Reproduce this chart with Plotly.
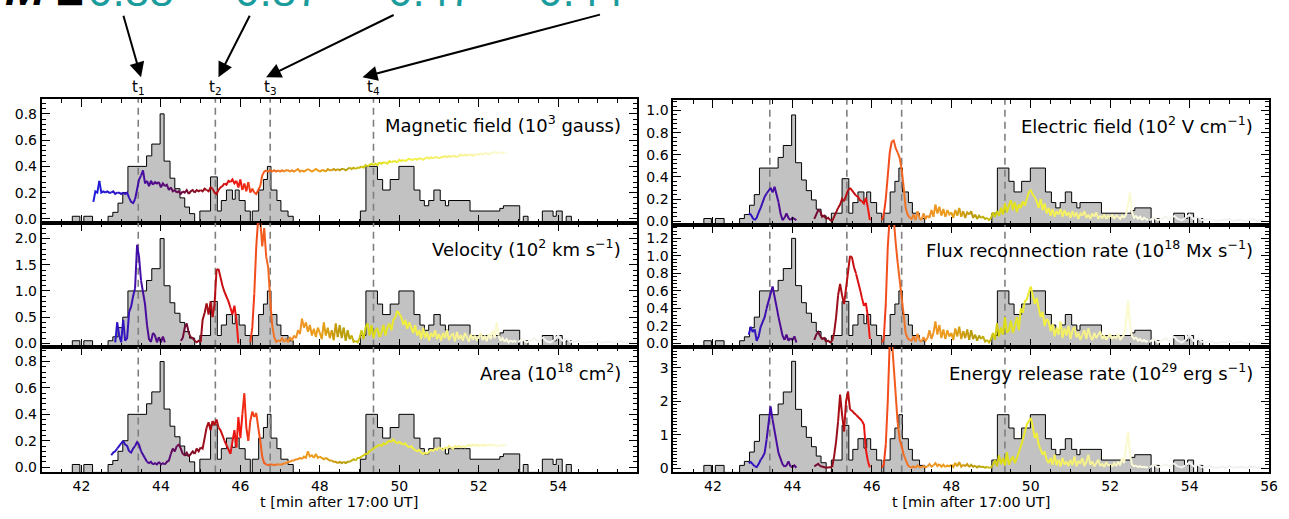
import numpy as np
import plotly.graph_objects as go

W_PX, H_PX = 1289, 519

# ---------------- data ----------------
T0, DT, NPTS = 42.30, 0.05, 214          # sample times 42.30 ... 52.95 (min after 17:00 UT)
T_TAIL0, DT_TAIL, NTAIL = 53.0, 0.1, 30   # faint tail 53.0 ... 55.9

T_MARKS = [43.43, 45.37, 46.75, 49.35]
M_VALUES = ["0.88", "0.87", "0.47", "0.44"]

# time histogram (start of each step, end of last step, height in magnetic-field units)
HIST_START = [41.77, 41.96, 42.06, 42.28, 42.67, 42.79, 42.92, 43.04, 43.17, 43.64, 43.77, 43.98,
              44.08, 44.23, 44.35, 44.48, 44.60, 44.72, 44.85, 44.98, 45.25, 45.42, 45.52, 45.65,
              45.80, 45.87, 45.97, 46.12, 46.25, 46.30, 46.46, 46.58, 46.68, 46.77, 46.92, 47.02,
              47.20, 47.33, 49.02, 49.16, 49.45, 49.58, 49.77, 49.99, 50.37, 50.52, 50.63, 50.74,
              50.87, 51.03, 51.16, 51.24, 51.78, 52.53, 52.62, 53.03, 53.12, 53.24, 53.60, 53.87,
              53.95, 54.10, 54.20]
HIST_END = 54.33
HIST_H = [0.02, 0, 0.02, 0, 0.02, 0.05, 0.12, 0.20, 0.40, 0.48, 0.57, 0.80,
          0.44, 0.31, 0.23, 0.16, 0.09, 0.04, 0, 0.06, 0.32, 0.06, 0.14, 0.22,
          0.15, 0.22, 0.14, 0.06, 0, 0.06, 0.22, 0.30, 0.40, 0.22, 0.14, 0.06,
          0.02, 0, 0.06, 0.40, 0.30, 0.22, 0.30, 0.40, 0.22, 0.14, 0.10, 0.14,
          0.22, 0.14, 0.10, 0.14, 0.06, 0.08, 0.10, 0, 0.02, 0, 0.06, 0.02,
          0.06, 0, 0.02]
N_ = None

MAG = [0.13, 0.21, 0.20, 0.29, 0.20, 0.21, 0.20, 0.21, 0.20, 0.20, 0.21, 0.19, 0.20, 0.20,
       0.19, 0.20, 0.19, 0.20, 0.16, 0.13, 0.12, 0.15, 0.22, 0.30, 0.33, 0.37, 0.27, 0.29, 0.25, 0.29, 0.26, 0.28, 0.27, 0.28,
       0.24, 0.27, 0.25, 0.26, 0.22, 0.24, 0.21, 0.22, 0.20, 0.21, 0.19, 0.21, 0.20, 0.22, 0.19, 0.21, 0.22, 0.20, 0.22, 0.21,
       0.22, 0.21, 0.23, 0.22, 0.21, 0.24, 0.23, 0.20, 0.19, 0.22, 0.24, 0.25, 0.27, 0.26, 0.29, 0.28, 0.30, 0.27, 0.29, 0.24,
       0.30, 0.22, 0.27, 0.21, 0.28, 0.20, 0.23, 0.20, 0.19, 0.22, 0.25, 0.33, 0.36, 0.37, 0.36, 0.37, 0.36, 0.37, 0.36, 0.37,
       0.36, 0.37, 0.36, 0.37, 0.37, 0.36, 0.37, 0.36, 0.37, 0.38, 0.36, 0.37, 0.36, 0.37, 0.38, 0.37, 0.36, 0.37, 0.38, 0.37,
       0.36, 0.37, 0.37, 0.36, 0.38, 0.37, 0.37, 0.38, 0.37, 0.38, 0.37, 0.38, 0.38, 0.37, 0.38, 0.39, 0.38, 0.39, 0.38, 0.39,
       0.39, 0.40, 0.39, 0.41, 0.40, 0.41, 0.42, 0.41, 0.42, 0.41, 0.43, 0.42, 0.43, 0.43, 0.42, 0.44, 0.43, 0.44, 0.44, 0.43,
       0.45, 0.44, 0.45, 0.44, 0.45, 0.46, 0.45, 0.45, 0.46, 0.45, 0.46, 0.46, 0.45, 0.46, 0.47, 0.46, 0.47, 0.46, 0.47, 0.47,
       0.46, 0.47, 0.47, 0.48, 0.47, 0.48, 0.47, 0.48, 0.48, 0.47, 0.48, 0.49, 0.48, 0.49, 0.48, 0.49, 0.49, 0.48, 0.49, 0.49,
       0.49, 0.50, 0.49, 0.50, 0.50, 0.49, 0.50, 0.50, 0.51, 0.50, 0.50, 0.51, 0.50, 0.51, 0.50, N_, N_, N_, N_, N_]

VEL = [N_, N_, N_, N_, N_, N_, N_, N_, N_, N_, N_, 0.02, 0.40, 0.15,
       0.02, 0.45, 0.05, 0.10, 0.60, 0.70, 0.90, 1.05, 1.88, 1.65, 1.20, 1.00, 0.75, 0.35, 0.08, 0.03, 0.20, 0.15, 0.02, 0.12,
       0.02, 0.13, 0.02, N_, N_, N_, N_, N_, N_, N_, 0.05, 0.10, 0.30, 0.38, 0.20, 0.12, 0.10, 0.05, 0.02, 0.05,
       0.02, 0.45, 0.58, 0.76, 0.55, 0.80, 0.50, 0.75, 1.40, 1.42, 1.25, 1.10, 0.98, 0.90, 0.80, 0.68, 0.55, 0.72, 0.45, 0.00,
       N_, N_, N_, N_, N_, 0.02, 0.30, 0.95, 1.85, 2.40, 2.35, 1.85, 2.20, 1.65, 1.45, 0.85, 0.35, 0.12, 0.03, 0.06,
       0.04, 0.10, 0.03, 0.08, 0.02, 0.12, 0.05, 0.15, 0.10, 0.25, 0.18, 0.47, 0.30, 0.40, 0.22, 0.35, 0.15, 0.28, 0.12, 0.30,
       0.20, 0.08, 0.40, 0.15, 0.30, 0.10, 0.25, 0.06, 0.38, 0.12, 0.35, 0.10, 0.30, 0.05, 0.25, 0.08, 0.15, 0.03, 0.05, 0.02,
       0.10, 0.25, 0.08, 0.30, 0.38, 0.15, 0.35, 0.10, 0.25, 0.28, 0.12, 0.20, 0.35, 0.15, 0.30, 0.38, 0.25, 0.45, 0.50, 0.62,
       0.55, 0.50, 0.35, 0.45, 0.28, 0.40, 0.30, 0.20, 0.35, 0.15, 0.25, 0.08, 0.30, 0.10, 0.22, 0.05, 0.20, 0.12, 0.25, 0.08,
       0.18, 0.05, 0.20, 0.10, 0.25, 0.06, 0.15, 0.18, 0.04, 0.22, 0.08, 0.16, 0.05, 0.20, 0.12, 0.03, 0.18, 0.07, 0.15, 0.05,
       0.12, 0.20, 0.06, 0.15, 0.04, 0.18, 0.08, 0.25, 0.10, 0.40, 0.15, 0.05, 0.10, 0.03, 0.08, 0.02, 0.06, 0.03, 0.05, 0.02]

AREA = [N_, N_, N_, N_, N_, N_, N_, N_, N_, 0.09, 0.11, 0.12, 0.14, 0.16,
        0.18, 0.20, 0.17, 0.16, 0.12, 0.11, 0.14, 0.16, 0.19, 0.17, 0.12, 0.09, 0.06, 0.04, 0.03, 0.04, 0.02, 0.03, 0.02, 0.04,
        0.02, 0.03, 0.02, 0.04, 0.05, 0.10, 0.14, 0.12, 0.16, 0.17, 0.14, 0.10, 0.09, 0.11, 0.08, 0.10, 0.12, 0.10, 0.14, 0.12,
        0.15, 0.14, 0.22, 0.30, 0.34, 0.28, 0.35, 0.32, 0.36, 0.30, 0.28, 0.24, 0.20, 0.17, 0.13, 0.10, 0.18, 0.28, 0.15, 0.38,
        0.22, 0.40, 0.56, 0.30, 0.20, 0.35, 0.42, 0.38, 0.41, 0.30, 0.20, 0.08, 0.03, 0.02, 0.015, 0.02, 0.02, 0.015, 0.02, 0.02,
        0.02, 0.02, 0.03, 0.03, 0.04, 0.04, 0.05, 0.05, 0.06, 0.06, 0.07, 0.06, 0.08, 0.07, 0.12, 0.08, 0.09, 0.07, 0.10, 0.07,
        0.08, 0.07, 0.06, 0.07, 0.06, 0.05, 0.05, 0.04, 0.04, 0.03, 0.04, 0.03, 0.04, 0.03, 0.04, 0.04, 0.05, 0.06, 0.05, 0.07,
        0.07, 0.08, 0.09, 0.10, 0.10, 0.12, 0.13, 0.14, 0.15, 0.16, 0.17, 0.16, 0.18, 0.17, 0.19, 0.20, 0.19, 0.21, 0.19, 0.18,
        0.19, 0.18, 0.17, 0.18, 0.16, 0.15, 0.16, 0.14, 0.13, 0.12, 0.13, 0.11, 0.10, 0.11, 0.10, 0.12, 0.13, 0.12, 0.14, 0.13,
        0.15, 0.14, 0.13, 0.15, 0.14, 0.16, 0.15, 0.14, 0.16, 0.15, 0.16, 0.15, 0.16, 0.15, 0.16, 0.17, 0.16, 0.17, 0.16, 0.17,
        0.16, 0.17, 0.16, 0.17, 0.16, 0.17, 0.17, 0.16, 0.17, 0.16, 0.16, 0.17, 0.16, 0.17, 0.16, N_, N_, N_, N_, N_]

EFIELD = [N_, N_, N_, N_, N_, N_, N_, N_, N_, N_, N_, N_, 0.07, 0.06,
          0.03, 0.01, 0.03, 0.08, 0.12, 0.17, 0.22, 0.25, 0.27, 0.30, 0.26, 0.31, 0.24, 0.17, 0.07, 0.01, 0.03, 0.07, 0.03, 0.01,
          0.03, 0.02, 0.01, N_, N_, N_, N_, N_, N_, N_, N_, 0.02, 0.06, 0.10, 0.09, 0.04, 0.05, 0.02, 0.03, 0.01,
          0.00, 0.04, 0.08, 0.12, 0.15, 0.20, 0.18, 0.24, 0.28, 0.30, 0.28, 0.25, 0.23, 0.22, 0.19, 0.18, 0.16, 0.21, 0.12, 0.01,
          N_, N_, N_, N_, N_, 0.01, 0.06, 0.20, 0.42, 0.62, 0.72, 0.73, 0.66, 0.62, 0.57, 0.47, 0.31, 0.12, 0.06, 0.03,
          0.02, 0.06, 0.01, 0.09, 0.03, 0.01, 0.07, 0.02, 0.05, 0.03, 0.10, 0.04, 0.15, 0.07, 0.13, 0.05, 0.11, 0.04, 0.10, 0.06,
          0.08, 0.03, 0.10, 0.05, 0.12, 0.04, 0.09, 0.03, 0.08, 0.06, 0.09, 0.03, 0.06, 0.02, 0.05, 0.03, 0.04, 0.02, 0.03, 0.01,
          0.03, 0.08, 0.04, 0.09, 0.05, 0.12, 0.06, 0.16, 0.08, 0.14, 0.19, 0.10, 0.17, 0.08, 0.15, 0.12, 0.18, 0.14, 0.20, 0.26,
          0.28, 0.24, 0.22, 0.18, 0.12, 0.20, 0.10, 0.16, 0.07, 0.12, 0.05, 0.11, 0.04, 0.09, 0.06, 0.11, 0.04, 0.10, 0.05, 0.08,
          0.03, 0.09, 0.04, 0.08, 0.02, 0.07, 0.05, 0.09, 0.03, 0.06, 0.02, 0.07, 0.04, 0.08, 0.02, 0.05, 0.03, 0.06, 0.02, 0.05,
          0.03, 0.06, 0.02, 0.05, 0.04, 0.02, 0.05, 0.03, 0.06, 0.15, 0.26, 0.08, 0.03, 0.05, 0.02, 0.04, 0.01, 0.03, 0.02, 0.01]

FLUX = [N_, N_, N_, N_, N_, N_, N_, N_, N_, N_, N_, N_, 0.10, 0.19,
        0.13, 0.16, 0.03, 0.08, 0.19, 0.24, 0.30, 0.40, 0.48, 0.58, 0.65, 0.55, 0.42, 0.30, 0.19, 0.09, 0.04, 0.10, 0.03, 0.06,
        0.04, 0.08, 0.01, N_, N_, N_, N_, N_, N_, N_, N_, 0.04, 0.10, 0.13, 0.08, 0.05, 0.06, 0.02, 0.03, 0.01,
        0.03, 0.12, 0.30, 0.55, 0.68, 0.55, 0.45, 0.65, 0.80, 1.00, 0.98, 0.87, 0.80, 0.72, 0.62, 0.52, 0.43, 0.46, 0.30, 0.05,
        N_, N_, N_, N_, N_, 0.01, 0.05, 0.45, 1.10, 1.45, 1.50, 1.42, 1.15, 0.92, 0.72, 0.50, 0.33, 0.12, 0.06, 0.04,
        0.03, 0.08, 0.02, 0.11, 0.04, 0.02, 0.07, 0.03, 0.06, 0.15, 0.05, 0.12, 0.25, 0.10, 0.21, 0.06, 0.16, 0.05, 0.15, 0.08,
        0.12, 0.04, 0.17, 0.08, 0.19, 0.05, 0.14, 0.06, 0.16, 0.04, 0.15, 0.05, 0.10, 0.03, 0.09, 0.05, 0.08, 0.02, 0.04, 0.01,
        0.05, 0.12, 0.04, 0.23, 0.08, 0.18, 0.10, 0.30, 0.12, 0.15, 0.26, 0.12, 0.20, 0.30, 0.15, 0.40, 0.35, 0.48, 0.50, 0.58,
        0.65, 0.55, 0.45, 0.52, 0.40, 0.30, 0.36, 0.20, 0.28, 0.25, 0.14, 0.22, 0.08, 0.18, 0.10, 0.25, 0.06, 0.17, 0.09, 0.20,
        0.05, 0.15, 0.19, 0.07, 0.12, 0.04, 0.10, 0.15, 0.05, 0.17, 0.08, 0.04, 0.12, 0.06, 0.10, 0.14, 0.05, 0.09, 0.04, 0.08,
        0.10, 0.05, 0.08, 0.06, 0.11, 0.04, 0.07, 0.10, 0.25, 0.49, 0.20, 0.08, 0.05, 0.07, 0.03, 0.05, 0.02, 0.04, 0.02, 0.03]

ENERGY = [N_, N_, N_, N_, N_, N_, N_, N_, N_, N_, N_, N_, 0.15, 0.18,
          0.12, 0.05, 0.03, 0.12, 0.25, 0.33, 0.45, 0.85, 1.30, 1.85, 1.45, 1.15, 0.75, 0.45, 0.28, 0.12, 0.04, 0.08, 0.20, 0.05,
          0.03, 0.08, 0.01, N_, N_, N_, N_, N_, N_, N_, N_, 0.05, 0.10, 0.13, 0.06, 0.04, 0.02, 0.01, 0.02, 0.01,
          0.03, 0.35, 0.80, 1.40, 2.20, 1.60, 1.10, 2.00, 2.30, 1.75, 1.72, 1.65, 1.60, 1.55, 1.48, 1.42, 1.30, 0.55, 0.20, 0.02,
          N_, N_, N_, N_, N_, 0.02, 0.10, 0.70, 2.00, 3.80, 3.90, 2.95, 1.95, 1.35, 0.85, 0.65, 0.40, 0.25, 0.10, 0.03,
          0.02, 0.05, 0.01, 0.08, 0.03, 0.02, 0.06, 0.02, 0.05, 0.12, 0.04, 0.08, 0.15, 0.06, 0.12, 0.04, 0.10, 0.03, 0.08, 0.05,
          0.10, 0.03, 0.15, 0.05, 0.18, 0.04, 0.10, 0.06, 0.12, 0.03, 0.10, 0.04, 0.07, 0.02, 0.06, 0.03, 0.04, 0.01, 0.03, 0.01,
          0.02, 0.10, 0.23, 0.06, 0.38, 0.12, 0.30, 0.08, 0.48, 0.10, 0.25, 0.35, 0.15, 0.30, 0.45, 0.65, 0.85, 1.05, 1.30, 1.40,
          1.50, 1.25, 0.90, 1.05, 0.70, 0.55, 0.40, 0.50, 0.25, 0.15, 0.30, 0.10, 0.40, 0.08, 0.25, 0.05, 0.30, 0.10, 0.20, 0.06,
          0.25, 0.08, 0.35, 0.05, 0.20, 0.15, 0.30, 0.06, 0.18, 0.40, 0.10, 0.20, 0.05, 0.15, 0.25, 0.06, 0.12, 0.03, 0.18, 0.08,
          0.10, 0.04, 0.15, 0.06, 0.20, 0.08, 0.30, 0.15, 0.60, 1.10, 0.40, 0.10, 0.05, 0.08, 0.03, 0.06, 0.02, 0.04, 0.02, 0.03]

VEL_TAIL = [0.03, 0.08, 0.02, 0.05, 0.10, 0.03, 0.12, 0.04, 0.02, 0.06, 0.15, 0.05, 0.10, 0.03, 0.02,
            0.05, 0.02, 0.01, 0.03, 0.02, 0.04, 0.01, 0.02, 0.03, 0.01, 0.02, 0.04, 0.01, 0.02, 0.01]
EFIELD_TAIL = [0.01, 0.03, 0.01, 0.02, 0.04, 0.01, 0.05, 0.02, 0.01, 0.03, 0.06, 0.02, 0.04, 0.01, 0.01,
               0.02, 0.01, 0.00, 0.01, 0.01, 0.02, 0.00, 0.01, 0.01, 0.00, 0.01, 0.02, 0.00, 0.01, 0.00]
FLUX_TAIL = [0.02, 0.05, 0.01, 0.03, 0.06, 0.02, 0.08, 0.03, 0.01, 0.04, 0.10, 0.03, 0.06, 0.02, 0.01,
             0.03, 0.01, 0.00, 0.02, 0.01, 0.03, 0.00, 0.01, 0.02, 0.00, 0.01, 0.03, 0.00, 0.01, 0.00]
ENERGY_TAIL = [0.03, 0.10, 0.02, 0.06, 0.12, 0.03, 0.15, 0.05, 0.02, 0.08, 0.18, 0.05, 0.10, 0.03, 0.02,
               0.06, 0.02, 0.01, 0.04, 0.02, 0.05, 0.01, 0.02, 0.04, 0.01, 0.02, 0.05, 0.01, 0.02, 0.01]

# time colour coding
COLOR_T = [42.3, 43.0, 43.6, 44.2, 44.7, 45.2, 45.9, 46.5, 47.2, 48.0, 48.6, 49.3, 50.2, 51.2, 52.0, 52.8, 53.6]
COLOR_C = ['#1c1cdc', '#3014c4', '#4a0c9e', '#5c0a70', '#780a2a', '#a50e14', '#f01212', '#f2561c',
           '#f08c2c', '#eaa018', '#b49a08', '#dcdc14', '#f2f03c', '#f5f07c', '#f9f6b4', '#fcfbe4', '#f2f2f0']

for name, arr in [("MAG", MAG), ("VEL", VEL), ("AREA", AREA), ("EFIELD", EFIELD), ("FLUX", FLUX), ("ENERGY", ENERGY)]:
    if len(arr) != NPTS:
        raise ValueError(f"{name} has {len(arr)} values, expected {NPTS}")

T = [round(T0 + DT * i, 2) for i in range(NPTS)]
T_TAIL = [round(T_TAIL0 + DT_TAIL * i, 2) for i in range(NTAIL)]

# ---------------- helpers ----------------
_rgb = np.array([[int(c[i:i + 2], 16) for i in (1, 3, 5)] for c in COLOR_C], dtype=float)


def tcolor(t):
    r, g, b = (np.interp(t, COLOR_T, _rgb[:, k]) for k in range(3))
    return f"rgb({int(round(r))},{int(round(g))},{int(round(b))})"


def px_x(p):
    return p / W_PX


def px_y(p):
    return 1 - p / H_PX


LEFT = [px_x(42), px_x(641)]
RIGHT = [px_x(678), px_x(1278)]

PANELS = [
    dict(v=MAG, tail=None, s=1.0, yr=[-0.03, 0.913], dt=0.2, mn=0.04, fmt=".1f", xd=LEFT, yp=(100, 225),
         label="Magnetic field (10<sup>3</sup> gauss)", xr=[41.0, 55.97], xl=False),
    dict(v=VEL, tail=VEL_TAIL, s=2.5, yr=[-0.062, 2.30], dt=0.5, mn=0.1, fmt=".1f", xd=LEFT, yp=(225, 350),
         label="Velocity (10<sup>2</sup> km s<sup>−1</sup>)", xr=[41.0, 55.97], xl=False),
    dict(v=AREA, tail=None, s=1.0, yr=[-0.04, 0.913], dt=0.2, mn=0.04, fmt=".1f", xd=LEFT, yp=(350, 477),
         label="Area (10<sup>18</sup> cm<sup>2</sup>)", xr=[41.0, 55.97], xl=True),
    dict(v=EFIELD, tail=EFIELD_TAIL, s=1.2, yr=[-0.033, 1.095], dt=0.2, mn=0.04, fmt=".1f", xd=RIGHT, yp=(101, 227),
         label="Electric field (10<sup>2</sup> V cm<sup>−1</sup>)", xr=[41.0, 56.0], xl=False),
    dict(v=FLUX, tail=FLUX_TAIL, s=1.5, yr=[-0.037, 1.355], dt=0.2, mn=0.04, fmt=".1f", xd=RIGHT, yp=(227, 350),
         label="Flux reconnection rate (10<sup>18</sup> Mx s<sup>−1</sup>)", xr=[41.0, 56.0], xl=False),
    dict(v=ENERGY, tail=ENERGY_TAIL, s=4.0, yr=[-0.13, 3.64], dt=1.0, mn=0.1, fmt="d", xd=RIGHT, yp=(350, 477),
         label="Energy release rate (10<sup>29</sup> erg s<sup>−1</sup>)", xr=[41.0, 56.0], xl=True),
]

TICKFONT = dict(family="DejaVu Sans", size=14, color="black")

fig = go.Figure()
layout = dict(width=W_PX, height=H_PX, margin=dict(l=0, r=0, t=0, b=0), autosize=False,
              paper_bgcolor="white", plot_bgcolor="white", showlegend=False)
annotations = []


def add_segments(t, v, xa, ya, seg=3):
    n = len(t)
    for i in range(0, n - 1, seg):
        j = min(i + seg, n - 1)
        xs, ys = t[i:j + 1], v[i:j + 1]
        if sum(y is not None for y in ys) < 2:
            continue
        tm = 0.5 * (xs[0] + xs[-1])
        fig.add_trace(go.Scatter(x=xs, y=ys, mode="lines", connectgaps=False,
                                 line=dict(color=tcolor(tm), width=2),
                                 xaxis=xa, yaxis=ya, hoverinfo="skip", showlegend=False))


for k, p in enumerate(PANELS):
    idx = "" if k == 0 else str(k + 1)
    xa, ya = "x" + idx, "y" + idx
    ymin, ymax = p["yr"]

    # histogram polygon (step outline filled down to the bottom of the panel)
    hx, hy = [HIST_START[0]], [ymin]
    ends = HIST_START[1:] + [HIST_END]
    for a, b, h in zip(HIST_START, ends, HIST_H):
        yv = h * p["s"] if h > 0 else ymin
        hx += [a, b]
        hy += [yv, yv]
    hx.append(HIST_END)
    hy.append(ymin)
    fig.add_trace(go.Scatter(x=hx, y=hy, mode="lines", fill="toself", fillcolor="#c2c2c2",
                             line=dict(color="black", width=1), xaxis=xa, yaxis=ya,
                             hoverinfo="skip", showlegend=False))

    # dashed time markers
    for tm in T_MARKS:
        fig.add_trace(go.Scatter(x=[tm, tm], y=[ymin, ymax], mode="lines",
                                 line=dict(color="#7f7f7f", width=1.6, dash="7px,5px"),
                                 xaxis=xa, yaxis=ya, hoverinfo="skip", showlegend=False))

    # colour-coded curves
    add_segments(T, p["v"], xa, ya)
    if p["tail"] is not None:
        add_segments(T_TAIL, p["tail"], xa, ya)

    ydom = [px_y(p["yp"][1]), px_y(p["yp"][0])]
    layout["xaxis" + idx] = dict(
        domain=p["xd"], anchor=ya, range=p["xr"], showgrid=False, zeroline=False,
        showline=True, linecolor="black", linewidth=1.8, mirror="ticks",
        ticks="inside", ticklen=8, tickwidth=1.3, tickcolor="black",
        tick0=42, dtick=2, showticklabels=p["xl"], tickfont=TICKFONT,
        minor=dict(ticks="inside", ticklen=4, tickwidth=1, tickcolor="black", dtick=0.5))
    layout["yaxis" + idx] = dict(
        domain=ydom, anchor=xa, range=p["yr"], showgrid=False, zeroline=False,
        showline=True, linecolor="black", linewidth=1.8, mirror="ticks",
        ticks="inside", ticklen=8, tickwidth=1.3, tickcolor="black",
        tick0=0, dtick=p["dt"], tickformat=p["fmt"], tickfont=TICKFONT,
        minor=dict(ticks="inside", ticklen=4, tickwidth=1, tickcolor="black", dtick=p["mn"]))

    annotations.append(dict(text=p["label"], xref=xa + " domain", yref=ya + " domain",
                            x=0.977, y=0.80, xanchor="right", yanchor="middle", showarrow=False,
                            font=dict(family="DejaVu Sans", size=18, color="black")))

# x-axis titles
for xc in (px_x(341), px_x(978)):
    annotations.append(dict(text="t [min after 17:00 UT]", xref="paper", yref="paper",
                            x=xc, y=px_y(507), xanchor="center", yanchor="middle", showarrow=False,
                            font=dict(family="DejaVu Sans", size=14.5, color="black")))

# t_i labels above the left top panel
for i, tm in enumerate(T_MARKS):
    annotations.append(dict(text=f"t<sub>{i + 1}</sub>", xref="x", yref="paper", x=tm, y=px_y(88),
                            xanchor="center", yanchor="middle", showarrow=False,
                            font=dict(family="DejaVu Sans", size=15, color="black")))

# M values (partially cut at the top of the page)
TEAL = "#1a9c9c"
BIGFONT = "Liberation Sans"
annotations.append(dict(text="<b><i>M</i></b>", xref="paper", yref="paper", x=px_x(48), y=px_y(17),
                        xanchor="right", yanchor="bottom", showarrow=False,
                        font=dict(family=BIGFONT, size=48, color="black")))
annotations.append(dict(text="<b>=</b>", xref="paper", yref="paper", x=px_x(70), y=px_y(25),
                        xanchor="center", yanchor="bottom", showarrow=False,
                        font=dict(family=BIGFONT, size=48, color="black")))
M_CENTERS = [132, 280, 434, 585]
for txt, xc in zip(M_VALUES, M_CENTERS):
    annotations.append(dict(text=txt, xref="paper", yref="paper", x=px_x(xc), y=px_y(17),
                            xanchor="center", yanchor="bottom", showarrow=False,
                            font=dict(family=BIGFONT, size=44, color=TEAL)))

# arrows from M values to the t_i markers (head, tail in pixels)
ARROWS = [((142, 78), (124, 15)), ((220, 78), (252, 15)), ((268, 78), (397, 15)), ((365, 78), (604, 15))]
for (hx_, hy_), (tx_, ty_) in ARROWS:
    annotations.append(dict(text="", xref="paper", yref="paper", x=px_x(hx_), y=px_y(hy_),
                            ax=tx_ - hx_, ay=ty_ - hy_, axref="pixel", ayref="pixel",
                            showarrow=True, arrowhead=2, arrowsize=1.5, arrowwidth=2,
                            arrowcolor="black", standoff=0))

layout["annotations"] = annotations
fig.update_layout(**layout)
fig.write_html("out.html")
